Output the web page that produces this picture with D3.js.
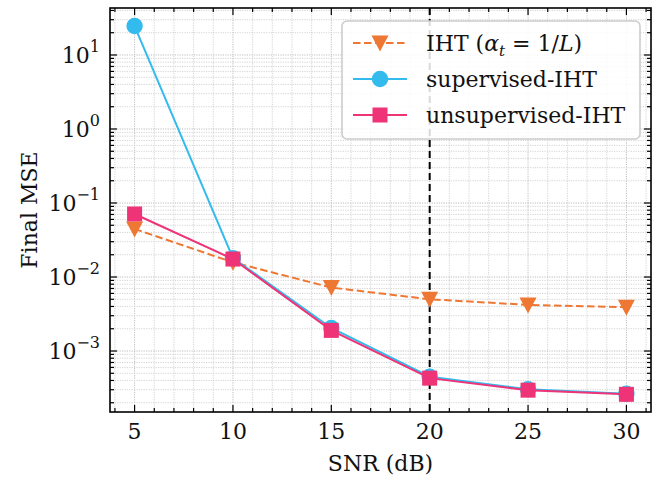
<!DOCTYPE html>
<html>
<head>
<meta charset="utf-8">
<script src="https://cdn.jsdelivr.net/npm/d3@7"></script>
<style>
body { margin: 0; background: #fff; }
svg text { font-family: "DejaVu Serif", "Liberation Serif", serif; fill: #111; }
</style>
</head>
<body>
<svg width="672" height="483"></svg>
<script>
const snr = [5, 10, 15, 20, 25, 30]
const ihtMse = [0.0446, 0.0158, 0.0072, 0.0050, 0.0042, 0.0039]
const supMse = [24.6, 0.0180, 0.00205, 0.00045, 0.000305, 0.000265]
const unsupMse = [0.071, 0.0175, 0.0019, 0.00043, 0.000296, 0.00026]
const xTicks = [5, 10, 15, 20, 25, 30]
const yExps = [-3, -2, -1, 0, 1]
const seriesNames = ["IHT", "supervised-IHT", "unsupervised-IHT"]

const svg = d3.select("svg"),
margin = {top: 8, right: 21, bottom: 71, left: 110},
width = +svg.attr("width") - margin.left - margin.right,
height = +svg.attr("height") - margin.top - margin.bottom

const fs = 22

const x = d3.scaleLinear()
.domain([3.75, 31.25])
.range([0, width])

const y = d3.scaleLog()
.domain([Math.pow(10, -3.824), Math.pow(10, 1.635)])
.range([height, 0])

const g = svg.append("g")
.attr("transform", `translate(${margin.left}, ${margin.top})`)

// minor / major tick values
const xMinor = d3.range(4, 32).filter(v => v % 5 !== 0)
const yMajor = yExps.map(e => Math.pow(10, e))
const yMinor = []
for (let e = -4; e <= 1; e++) {
  for (let m = 2; m <= 9; m++) {
    const v = m * Math.pow(10, e)
    if (v >= y.domain()[0] && v <= y.domain()[1]) yMinor.push(v)
  }
}

// grid
const grid = g.append("g").attr("class", "grid")
grid.selectAll(".gx")
.data(xMinor.concat(xTicks))
.enter().append("line")
.attr("x1", d => x(d)).attr("x2", d => x(d))
.attr("y1", 0).attr("y2", height)
.attr("stroke", d => xTicks.includes(d) ? "#b5b5b5" : "#cfcfcf")
.attr("stroke-width", 0.9)
.attr("stroke-dasharray", "1.2,1.2")

grid.selectAll(".gy")
.data(yMinor.concat(yMajor))
.enter().append("line")
.attr("x1", 0).attr("x2", width)
.attr("y1", d => y(d)).attr("y2", d => y(d))
.attr("stroke", d => yMajor.includes(d) ? "#b5b5b5" : "#cfcfcf")
.attr("stroke-width", 0.9)
.attr("stroke-dasharray", "1.2,1.2")

// vertical reference line at 20 dB
g.append("line")
.attr("x1", x(20)).attr("x2", x(20))
.attr("y1", 0).attr("y2", height)
.attr("stroke", "#000")
.attr("stroke-width", 2)
.attr("stroke-dasharray", "7,4")

// series
const series = [
  {name: seriesNames[0], values: ihtMse, color: "#EE7733", dash: "7.5,3.5", marker: "tri"},
  {name: seriesNames[1], values: supMse, color: "#33BBEE", dash: null, marker: "circle"},
  {name: seriesNames[2], values: unsupMse, color: "#EE3377", dash: null, marker: "square"}
]

const line = d3.line()
.x(d => x(d[0]))
.y(d => y(d[1]))

function drawMarker(sel, type, color, cx, cy) {
  const s = 15
  if (type === "circle") {
    sel.append("circle").attr("cx", cx).attr("cy", cy).attr("r", s / 2 + 0.7).attr("fill", color)
  } else if (type === "square") {
    sel.append("rect").attr("x", cx - s / 2).attr("y", cy - s / 2).attr("width", s).attr("height", s).attr("fill", color)
  } else {
    sel.append("path")
    .attr("d", `M${cx - s / 2 - 1},${cy - s / 2} L${cx + s / 2 + 1},${cy - s / 2} L${cx},${cy + s / 2 + 1} Z`)
    .attr("fill", color)
  }
}

series.forEach(s => {
  const pts = snr.map((v, i) => [v, s.values[i]])
  g.append("path")
  .datum(pts)
  .attr("fill", "none")
  .attr("stroke", s.color)
  .attr("stroke-width", 2)
  .attr("stroke-dasharray", s.dash)
  .attr("d", line)
  const mg = g.append("g")
  pts.forEach(p => drawMarker(mg, s.marker, s.color, x(p[0]), y(p[1])))
})

// ticks (inward, all four sides)
const ticks = g.append("g").attr("stroke", "#000").attr("stroke-width", 1.2)
xTicks.forEach(v => {
  ticks.append("line").attr("x1", x(v)).attr("x2", x(v)).attr("y1", height).attr("y2", height - 7)
  ticks.append("line").attr("x1", x(v)).attr("x2", x(v)).attr("y1", 0).attr("y2", 7)
})
xMinor.forEach(v => {
  ticks.append("line").attr("x1", x(v)).attr("x2", x(v)).attr("y1", height).attr("y2", height - 4)
  ticks.append("line").attr("x1", x(v)).attr("x2", x(v)).attr("y1", 0).attr("y2", 4)
})
yMajor.forEach(v => {
  ticks.append("line").attr("x1", 0).attr("x2", 7).attr("y1", y(v)).attr("y2", y(v))
  ticks.append("line").attr("x1", width).attr("x2", width - 7).attr("y1", y(v)).attr("y2", y(v))
})
yMinor.forEach(v => {
  ticks.append("line").attr("x1", 0).attr("x2", 4).attr("y1", y(v)).attr("y2", y(v))
  ticks.append("line").attr("x1", width).attr("x2", width - 4).attr("y1", y(v)).attr("y2", y(v))
})

// frame
g.append("rect")
.attr("width", width).attr("height", height)
.attr("fill", "none").attr("stroke", "#000").attr("stroke-width", 1.6)

// tick labels
g.selectAll(".xl")
.data(xTicks)
.enter().append("text")
.attr("x", d => x(d))
.attr("y", height + 27)
.attr("text-anchor", "middle")
.attr("font-size", fs)
.text(d => d)

const yl = g.selectAll(".yl")
.data(yExps)
.enter().append("text")
.attr("x", -10)
.attr("y", d => y(Math.pow(10, d)) + 8)
.attr("text-anchor", "end")
.attr("font-size", fs)
yl.append("tspan").text("10")
yl.append("tspan")
.attr("dy", -11)
.attr("font-size", 16)
.text(d => d < 0 ? "\u2212" + (-d) : String(d))

// axis titles
svg.append("text")
.attr("x", margin.left + width / 2)
.attr("y", 471)
.attr("text-anchor", "middle")
.attr("font-size", fs)
.text("SNR (dB)")

svg.append("text")
.attr("transform", "translate(37, 210) rotate(-90)")
.attr("text-anchor", "middle")
.attr("font-size", fs)
.text("Final MSE")

// legend
const lg = svg.append("g")
lg.append("rect")
.attr("x", 342).attr("y", 21)
.attr("width", 298).attr("height", 118)
.attr("rx", 5)
.attr("fill", "#fff").attr("fill-opacity", 0.85)
.attr("stroke", "#cccccc").attr("stroke-width", 1.6)

const rowY = [43, 79, 115]
series.forEach((s, i) => {
  lg.append("line")
  .attr("x1", 353).attr("x2", 407)
  .attr("y1", rowY[i]).attr("y2", rowY[i])
  .attr("stroke", s.color).attr("stroke-width", 2)
  .attr("stroke-dasharray", s.dash)
  drawMarker(lg, s.marker, s.color, 380, rowY[i])
})

const t0 = lg.append("text").attr("x", 426).attr("y", rowY[0] + 8).attr("font-size", fs)
t0.append("tspan").text("IHT (")
t0.append("tspan").attr("font-style", "italic").text("\u03b1")
t0.append("tspan").attr("font-style", "italic").attr("font-size", 15).attr("dy", 5).text("t")
t0.append("tspan").attr("dy", -5).text(" = 1/")
t0.append("tspan").attr("font-style", "italic").text("L")
t0.append("tspan").text(")")

lg.append("text").attr("x", 426).attr("y", rowY[1] + 8).attr("font-size", fs).text(seriesNames[1])
lg.append("text").attr("x", 426).attr("y", rowY[2] + 8).attr("font-size", fs).text(seriesNames[2])
</script>
</body>
</html>
